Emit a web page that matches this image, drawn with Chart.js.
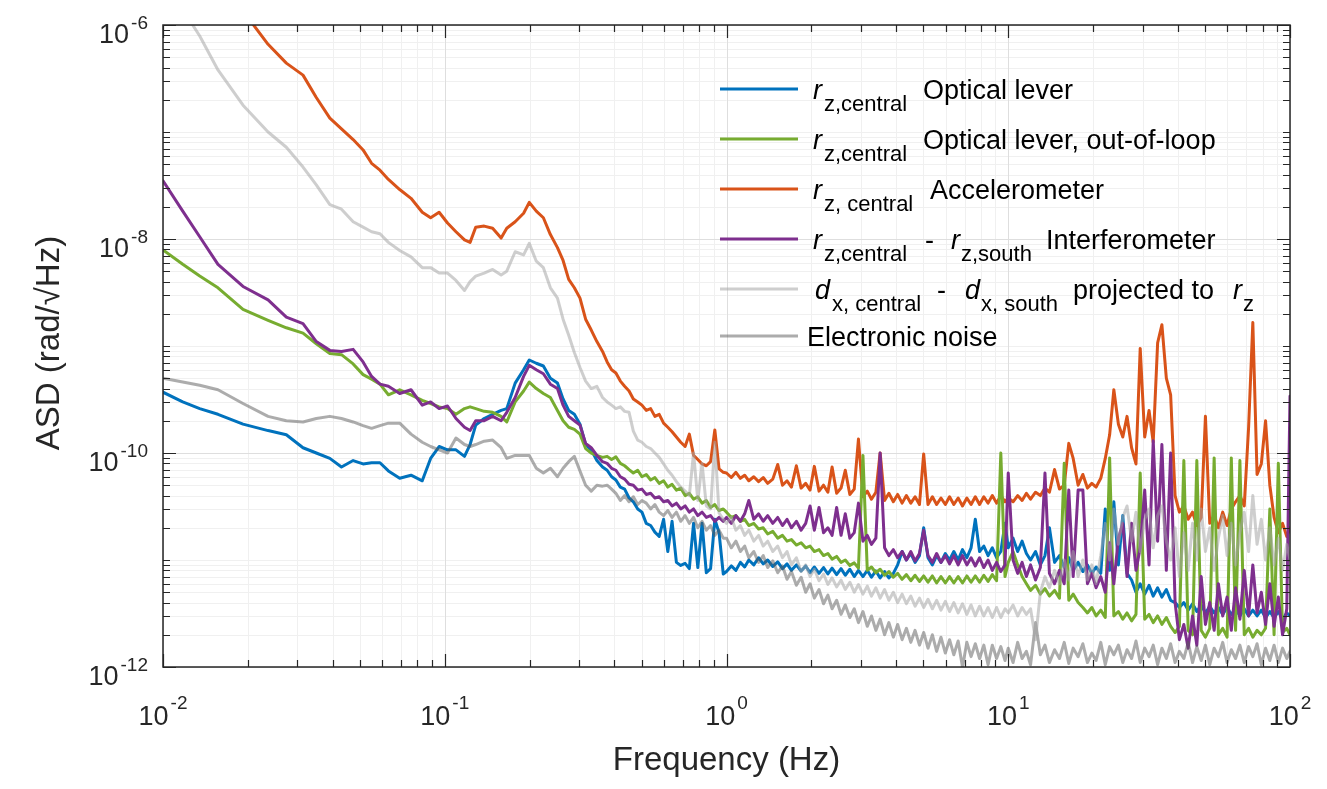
<!DOCTYPE html>
<html>
<head>
<meta charset="utf-8">
<script src="https://cdn.jsdelivr.net/npm/chart.js@4.4.0/dist/chart.umd.min.js"></script>
<style>
html,body{margin:0;padding:0;background:#ffffff;}
#wrap{width:1327px;height:789px;position:relative;overflow:hidden;}
canvas{display:block;}
</style>
</head>
<body>
<div id="wrap"><canvas id="c" width="1327" height="789"></canvas></div>
<script>
// ---------------- DATA ----------------
// Frequency grid (Hz)
const freq = [
0.0100,0.01175,0.0135,0.01567,0.01923,0.0236,0.0274,0.0314,0.0350,0.0391,
0.0430,0.0473,0.0513,0.0550,0.0589,0.0631,0.0692,0.0759,0.0832,0.0891,
0.0955,0.1023,0.1096,0.1175,0.1230,0.1288,0.1380,0.1479,0.1585,0.1660,
0.1778,0.1905,0.1995,0.2113,0.2239,0.2371,0.2512,0.2630,0.2754,0.2884,
0.3020,0.3162,0.3311,0.3467,0.3631,
0.377,0.391,0.405,0.420,0.435,0.451,0.467,0.484,0.501,0.519,
0.538,0.557,0.577,0.598,0.619,0.641,0.664,0.688,0.713,0.738,
0.764,0.791,0.819,0.848,0.878,0.909,0.941,0.974,
1.00,1.04,1.08,1.12,1.16,1.20,1.25,1.30,1.35,1.40,
1.46,1.52,1.58,1.64,1.70,1.77,1.84,1.91,1.98,2.05,
2.13,2.21,2.29,2.37,2.46,2.55,2.64,2.74,2.84,2.94,
3.05,3.16,3.27,3.39,3.51,3.64,3.77,3.91,4.05,4.20,
4.35,4.51,4.67,4.84,5.01,5.19,5.38,5.57,5.77,5.98,
6.19,6.41,6.64,6.88,7.13,7.38,7.64,7.91,8.19,8.48,
8.78,9.09,9.41,9.74,
10.0,10.4,10.8,11.2,11.6,12.0,12.5,13.0,13.5,14.0,
14.6,15.2,15.8,16.4,17.0,17.7,18.4,19.1,19.8,20.5,
21.3,22.1,22.9,23.7,24.6,25.5,26.4,27.4,28.4,29.4,
30.5,31.6,32.7,33.9,35.1,36.4,37.7,39.1,40.5,42.0,
43.5,45.1,46.7,48.4,50.1,51.9,53.8,55.7,57.7,59.8,
61.9,64.1,66.4,68.8,71.3,73.8,76.4,79.1,81.9,84.8,
87.8,90.9,94.1,97.4,
100
];

// r_z,central  Optical lever (blue)
const rzOpticalLever = [
3.7e-10,3.0e-10,2.6e-10,2.3e-10,1.86e-10,1.62e-10,1.48e-10,1.12e-10,1.0e-10,8.9e-11,
7.4e-11,8.5e-11,7.9e-11,8.1e-11,8.1e-11,6.8e-11,5.8e-11,6.2e-11,5.5e-11,8.9e-11,
1.15e-10,1.07e-10,1.07e-10,9.3e-11,1.2e-10,1.82e-10,2.1e-10,2.3e-10,2.5e-10,2.6e-10,
4.5e-10,6.0e-10,7.4e-10,6.9e-10,6.5e-10,5.0e-10,4.5e-10,3.2e-10,2.5e-10,2.3e-10,
1.86e-10,1.2e-10,1.07e-10,8.5e-11,7.4e-11,
6.9e-11,6.0e-11,5.6e-11,4.8e-11,4.6e-11,3.8e-11,3.5e-11,3.0e-11,2.8e-11,2.2e-11,
2.1e-11,1.82e-11,1.66e-11,2.4e-11,1.2e-11,2.3e-11,9.5e-12,8.9e-12,9.3e-12,8.3e-12,
2.2e-11,8.5e-12,2.2e-11,7.6e-12,8.3e-12,2.4e-11,1.8e-11,7.4e-12,
7.8e-12,8.8e-12,8.0e-12,9.5e-12,8.6e-12,1.0e-11,9.0e-12,1.05e-11,9.2e-12,1.0e-11,
8.7e-12,9.6e-12,8.3e-12,9.2e-12,8.0e-12,9.0e-12,7.9e-12,8.8e-12,7.6e-12,8.6e-12,
7.5e-12,8.5e-12,7.4e-12,8.4e-12,7.3e-12,8.3e-12,7.2e-12,8.2e-12,7.0e-12,8.0e-12,
7.0e-12,8.0e-12,6.9e-12,7.9e-12,6.8e-12,7.8e-12,6.8e-12,7.5e-12,9.0e-12,1.2e-11,
1.0e-11,1.15e-11,9.5e-12,1.1e-11,2.0e-11,1.05e-11,9.0e-12,1.1e-11,9.5e-12,1.15e-11,
1.0e-11,1.2e-11,1.0e-11,1.25e-11,1.05e-11,1.3e-11,2.4e-11,1.2e-11,1.35e-11,1.1e-11,
1.3e-11,1.05e-11,1.2e-11,2.2e-11,
1.3e-11,1.6e-11,1.2e-11,1.5e-11,1.15e-11,1.0e-11,1.2e-11,9.0e-12,1.1e-11,2.0e-11,
9.5e-12,1.1e-11,8.5e-12,1.05e-11,8.0e-12,9.5e-12,7.8e-12,9.0e-12,7.5e-12,8.6e-12,
7.5e-12,3.0e-11,8.0e-12,3.5e-11,9.0e-12,2.6e-11,7.5e-12,6.5e-12,5.0e-12,6.0e-12,
4.8e-12,5.8e-12,4.6e-12,5.5e-12,4.5e-12,5.3e-12,4.2e-12,4.0e-12,3.6e-12,4.0e-12,
3.4e-12,3.9e-12,3.3e-12,3.8e-12,3.2e-12,3.7e-12,3.2e-12,3.6e-12,3.1e-12,3.6e-12,
3.1e-12,3.5e-12,3.0e-12,3.5e-12,3.0e-12,3.4e-12,3.0e-12,3.4e-12,2.9e-12,3.3e-12,
2.9e-12,3.3e-12,2.8e-12,3.2e-12,
3.0e-12
];

// r_z,central  Optical lever, out-of-loop (green)
const rzOutOfLoop = [
7.9e-9,5.8e-9,4.5e-9,3.5e-9,2.2e-9,1.74e-9,1.48e-9,1.32e-9,1.05e-9,8.5e-10,
8.3e-10,6.8e-10,5.4e-10,4.9e-10,4.4e-10,3.5e-10,3.9e-10,3.5e-10,3.1e-10,2.9e-10,
2.7e-10,2.6e-10,2.3e-10,2.6e-10,2.7e-10,2.6e-10,2.45e-10,2.4e-10,2.2e-10,1.95e-10,
3.0e-10,3.8e-10,4.6e-10,4.0e-10,3.6e-10,3.3e-10,2.5e-10,2.0e-10,1.74e-10,1.66e-10,
1.5e-10,1.1e-10,1.0e-10,9.5e-11,9.1e-11,
9.3e-11,8.7e-11,9.2e-11,8.0e-11,7.6e-11,7.0e-11,6.5e-11,6.9e-11,6.0e-11,6.3e-11,
5.6e-11,5.9e-11,5.2e-11,5.5e-11,4.8e-11,5.1e-11,4.5e-11,4.7e-11,4.0e-11,4.2e-11,
3.7e-11,3.9e-11,3.4e-11,3.6e-11,3.1e-11,3.3e-11,2.9e-11,3.0e-11,
2.8e-11,2.5e-11,2.6e-11,2.3e-11,2.4e-11,2.1e-11,2.2e-11,1.95e-11,2.0e-11,1.75e-11,
1.85e-11,1.6e-11,1.7e-11,1.5e-11,1.55e-11,1.38e-11,1.45e-11,1.3e-11,1.35e-11,1.2e-11,
1.25e-11,1.1e-11,1.15e-11,1.02e-11,1.08e-11,9.5e-12,1.0e-11,8.9e-12,9.4e-12,8.4e-12,
9.5e-11,8.0e-12,8.6e-12,7.6e-12,8.2e-12,7.2e-12,7.8e-12,6.9e-12,7.5e-12,6.6e-12,
7.3e-12,6.4e-12,7.2e-12,6.3e-12,7.1e-12,6.2e-12,7.1e-12,6.1e-12,7.0e-12,6.1e-12,
7.0e-12,6.1e-12,7.0e-12,6.1e-12,7.1e-12,6.2e-12,7.1e-12,6.2e-12,7.2e-12,6.3e-12,
7.3e-12,6.4e-12,1.0e-10,7.0e-12,
9.5e-12,1.2e-11,9.0e-12,7.0e-12,6.0e-12,5.2e-12,5.8e-12,4.8e-12,5.4e-12,4.6e-12,
5.2e-12,4.4e-12,8.0e-11,4.2e-12,4.8e-12,4.0e-12,3.6e-12,3.2e-12,3.6e-12,3.0e-12,
3.4e-12,2.9e-12,9.0e-11,3.0e-12,3.3e-12,2.8e-12,3.2e-12,2.7e-12,3.1e-12,6.5e-11,
2.8e-12,3.1e-12,2.6e-12,3.0e-12,2.5e-12,2.9e-12,2.4e-12,2.1e-12,2.4e-12,8.5e-11,
2.2e-12,2.0e-12,8.5e-11,2.2e-12,1.9e-12,2.3e-12,9.0e-11,2.0e-12,2.3e-12,1.9e-12,
9.0e-11,2.2e-12,8.5e-11,2.0e-12,2.3e-12,1.9e-12,2.2e-12,2.0e-12,2.3e-12,3.0e-11,
2.0e-12,8.0e-11,2.1e-12,2.3e-12,
2.0e-12
];

// r_z,central  Accelerometer (orange)
const rzAccelerometer = [
9e-6,5.6e-6,4e-6,2.5e-6,1.35e-6,6.6e-7,4.4e-7,3.4e-7,2.1e-7,1.35e-7,
1.07e-7,8.5e-8,6.8e-8,5.1e-8,4.4e-8,3.6e-8,2.9e-8,2.4e-8,1.78e-8,1.58e-8,
1.78e-8,1.41e-8,1.17e-8,9.8e-9,9.3e-9,1.29e-8,1.32e-8,1.26e-8,1.02e-8,1.26e-8,
1.45e-8,1.74e-8,2.2e-8,1.82e-8,1.58e-8,1.1e-8,8.3e-9,6.3e-9,4.2e-9,3.5e-9,
2.8e-9,1.78e-9,1.41e-9,1.1e-9,8.9e-10,
7.1e-10,6.0e-10,5.6e-10,4.7e-10,4.2e-10,3.8e-10,3.2e-10,3.0e-10,2.8e-10,2.5e-10,
2.6e-10,2.2e-10,2.3e-10,1.9e-10,1.74e-10,1.58e-10,1.41e-10,1.26e-10,1.15e-10,1.5e-10,
9.5e-11,8.7e-11,7.9e-11,7.6e-11,8.3e-11,1.64e-10,7.1e-11,6.6e-11,
6.5e-11,5.9e-11,6.6e-11,5.8e-11,6.2e-11,5.5e-11,6.0e-11,5.4e-11,5.9e-11,5.2e-11,
5.7e-11,7.8e-11,5.0e-11,5.5e-11,4.8e-11,7.6e-11,4.7e-11,5.2e-11,4.5e-11,7.5e-11,
4.4e-11,5.0e-11,4.3e-11,7.4e-11,4.2e-11,4.7e-11,6.9e-11,4.1e-11,4.6e-11,1.35e-10,
3.9e-11,4.4e-11,3.7e-11,4.3e-11,1.0e-10,3.6e-11,4.2e-11,3.5e-11,4.1e-11,3.4e-11,
4.0e-11,3.4e-11,3.9e-11,3.3e-11,9.8e-11,3.3e-11,3.9e-11,3.3e-11,3.8e-11,3.3e-11,
3.9e-11,3.3e-11,3.8e-11,3.2e-11,3.8e-11,3.3e-11,3.9e-11,3.3e-11,3.9e-11,3.4e-11,
4.0e-11,3.4e-11,4.0e-11,3.5e-11,
3.8e-11,3.5e-11,4.0e-11,3.6e-11,4.2e-11,3.7e-11,4.3e-11,4.0e-11,4.7e-11,4.3e-11,
7.0e-11,4.6e-11,5.0e-11,1.23e-10,8.9e-11,5.0e-11,6.3e-11,4.7e-11,5.2e-11,4.8e-11,
5.8e-11,8.9e-11,1.48e-10,3.9e-10,1.86e-10,1.41e-10,2.2e-10,1.12e-10,7.9e-11,9.5e-10,
1.41e-10,2.5e-10,1.26e-10,1.07e-9,1.58e-9,5.0e-10,3.5e-10,4.0e-11,2.8e-11,3.2e-11,
2.4e-11,2.8e-11,2.1e-11,2.5e-11,2.2e-10,2.2e-11,2.6e-11,2.0e-11,2.8e-11,2.1e-11,
3.0e-11,3.5e-11,4.0e-11,3.2e-11,1.74e-10,1.66e-9,6.3e-11,7.9e-11,2.0e-10,5.0e-11,
2.5e-11,1.8e-11,2.2e-11,1.66e-11,
2.0e-11
];

// r_z,central - r_z,south  Interferometer (purple)
const rzInterferometer = [
3.5e-8,1.82e-8,1.05e-8,5.8e-9,3.6e-9,2.7e-9,1.86e-9,1.62e-9,1.1e-9,9.1e-10,
8.9e-10,9.3e-10,7.1e-10,5.2e-10,4.4e-10,4.2e-10,3.6e-10,3.9e-10,2.8e-10,3.0e-10,
2.6e-10,2.75e-10,2.1e-10,1.74e-10,1.62e-10,2.0e-10,2.0e-10,2.2e-10,2.0e-10,2.4e-10,
3.3e-10,5.2e-10,6.6e-10,6.0e-10,5.5e-10,4.4e-10,4.0e-10,2.8e-10,2.2e-10,2.0e-10,
1.82e-10,1.23e-10,1.12e-10,9.5e-11,8.3e-11,
8.0e-11,7.2e-11,6.9e-11,6.0e-11,5.7e-11,5.1e-11,5.0e-11,4.5e-11,4.6e-11,4.1e-11,
4.2e-11,3.8e-11,3.9e-11,3.5e-11,3.6e-11,3.2e-11,3.4e-11,3.0e-11,3.2e-11,2.8e-11,
3.0e-11,2.6e-11,2.8e-11,2.5e-11,2.6e-11,2.3e-11,2.5e-11,2.3e-11,
2.5e-11,2.2e-11,2.6e-11,2.3e-11,2.7e-11,3.6e-11,2.4e-11,2.7e-11,2.3e-11,2.6e-11,
2.2e-11,2.5e-11,2.1e-11,2.4e-11,2.0e-11,2.3e-11,1.9e-11,2.2e-11,3.2e-11,1.9e-11,
3.1e-11,1.8e-11,2.0e-11,1.7e-11,3.1e-11,1.7e-11,2.7e-11,1.6e-11,1.8e-11,3.4e-11,
1.5e-11,1.7e-11,1.4e-11,1.6e-11,1.0e-10,1.3e-11,1.1e-11,1.25e-11,1.05e-11,1.2e-11,
1.0e-11,1.2e-11,9.8e-12,1.15e-11,1.9e-11,1.1e-11,9.5e-12,1.15e-11,9.5e-12,1.1e-11,
9.2e-12,1.1e-11,9.0e-12,1.1e-11,9.0e-12,1.05e-11,8.8e-12,1.05e-11,8.5e-12,1.0e-11,
8.0e-12,9.5e-12,7.8e-12,9.0e-12,
6.5e-11,1.0e-11,7.5e-12,9.5e-12,7.0e-12,9.0e-12,6.5e-12,8.5e-12,6.5e-11,7.5e-12,
6.0e-12,8.0e-12,6.0e-12,4.5e-11,7.0e-12,4.5e-11,4.5e-11,6.0e-12,7.5e-12,5.5e-12,
7.0e-12,5.0e-12,1.45e-11,6.0e-12,1.6e-11,2.2e-11,7.0e-12,2.2e-11,8.0e-12,1.3e-11,
4.5e-11,9.0e-12,1.3e-10,1.5e-11,1.2e-10,8.0e-12,1.0e-10,4.0e-12,1.8e-12,2.5e-12,
1.5e-12,3.0e-12,1.6e-12,7.0e-12,2.5e-12,4.0e-12,2.2e-12,6.0e-12,3.0e-12,4.5e-12,
2.2e-12,5.5e-12,2.8e-12,8.0e-12,3.0e-12,9.0e-12,3.2e-12,5.0e-12,2.5e-12,6.0e-12,
2.4e-12,4.5e-12,2.0e-12,3.5e-12,
3.4e-10
];

// d_x,central - d_x,south projected to r_z (light grey)
const dxProjected = [
2.8e-6,1.4e-6,7.9e-7,3.8e-7,1.78e-7,1.0e-7,7.2e-8,4.7e-8,3.2e-8,2.1e-8,
1.9e-8,1.45e-8,1.29e-8,1.17e-8,1.12e-8,9.3e-9,7.8e-9,6.8e-9,5.4e-9,5.4e-9,
4.8e-9,4.8e-9,4.1e-9,3.3e-9,4.0e-9,4.5e-9,4.8e-9,5.2e-9,4.6e-9,5.0e-9,
7.6e-9,7.1e-9,9.1e-9,6.2e-9,5.4e-9,3.5e-9,2.8e-9,1.78e-9,1.26e-9,8.7e-10,
6.3e-10,4.7e-10,4.0e-10,4.2e-10,3.3e-10,
3.0e-10,2.8e-10,2.6e-10,2.7e-10,2.45e-10,2.4e-10,1.6e-10,1.32e-10,1.26e-10,1.15e-10,
1.1e-10,1.0e-10,9.1e-11,7.9e-11,6.9e-11,6.2e-11,5.4e-11,4.8e-11,4.4e-11,4.0e-11,
1.0e-10,3.6e-11,8.0e-11,3.2e-11,3.0e-11,1.26e-10,2.75e-11,2.4e-11,
2.2e-11,2.5e-11,1.9e-11,2.1e-11,1.7e-11,1.9e-11,1.5e-11,1.7e-11,1.35e-11,1.5e-11,
1.2e-11,1.35e-11,1.05e-11,1.2e-11,9.0e-12,1.05e-11,7.8e-12,9.0e-12,7.0e-12,8.2e-12,
6.4e-12,7.4e-12,5.9e-12,6.8e-12,5.6e-12,6.5e-12,5.3e-12,6.2e-12,5.0e-12,5.9e-12,
4.8e-12,5.7e-12,4.6e-12,5.5e-12,4.4e-12,5.3e-12,4.2e-12,5.0e-12,4.0e-12,4.8e-12,
3.9e-12,4.6e-12,3.7e-12,4.4e-12,3.6e-12,4.3e-12,3.5e-12,4.2e-12,3.4e-12,4.1e-12,
3.3e-12,4.0e-12,3.2e-12,3.9e-12,3.1e-12,3.8e-12,3.0e-12,3.7e-12,3.0e-12,3.6e-12,
2.9e-12,3.6e-12,2.9e-12,3.5e-12,
3.2e-12,3.8e-12,3.0e-12,3.6e-12,3.1e-12,3.5e-12,1.8e-12,5.0e-12,7.0e-12,5.5e-12,
8.0e-12,6.0e-12,1.0e-11,6.5e-12,1.2e-11,7.0e-12,1.0e-11,6.5e-12,9.0e-12,6.0e-12,
1.1e-11,2.2e-11,1.0e-11,3.0e-11,1.4e-11,2.5e-11,3.2e-11,1.5e-11,2.8e-11,1.2e-11,
2.4e-11,3.0e-11,1.3e-11,2.6e-11,3.2e-11,1.5e-11,1.0e-11,2.0e-11,7.0e-12,1.8e-11,
8.0e-12,2.2e-11,1.0e-11,3.0e-11,1.2e-11,2.0e-11,8.0e-12,1.6e-11,2.6e-11,1.1e-11,
2.2e-11,9.0e-12,1.8e-11,2.8e-11,1.2e-11,4.0e-11,1.4e-11,2.4e-11,1.0e-11,2.0e-11,
9.0e-12,1.6e-11,8.0e-12,1.4e-11,
1.0e-11
];

// Electronic noise (grey)
const electronicNoise = [
5.0e-10,4.6e-10,4.3e-10,3.9e-10,2.9e-10,2.2e-10,2.0e-10,1.95e-10,2.1e-10,2.2e-10,
2.1e-10,1.95e-10,1.8e-10,1.7e-10,1.8e-10,1.9e-10,1.9e-10,1.5e-10,1.26e-10,1.15e-10,
1.07e-10,1.0e-10,1.38e-10,1.2e-10,1.15e-10,1.2e-10,1.29e-10,1.32e-10,1.12e-10,8.9e-11,
9.5e-11,9.5e-11,9.5e-11,7.2e-11,6.5e-11,7.2e-11,6.0e-11,7.2e-11,8.3e-11,9.3e-11,
6.8e-11,5.0e-11,4.4e-11,5.0e-11,4.9e-11,
5.0e-11,4.6e-11,4.2e-11,3.6e-11,4.0e-11,3.5e-11,3.9e-11,3.3e-11,3.6e-11,3.4e-11,
3.0e-11,3.3e-11,2.8e-11,2.6e-11,2.9e-11,2.5e-11,2.8e-11,2.3e-11,2.6e-11,2.2e-11,
2.5e-11,2.0e-11,2.3e-11,1.9e-11,2.1e-11,1.7e-11,1.9e-11,1.6e-11,
1.6e-11,1.3e-11,1.5e-11,1.2e-11,1.35e-11,1.05e-11,1.2e-11,9.5e-12,1.1e-11,8.5e-12,
9.8e-12,7.6e-12,8.8e-12,6.6e-12,7.8e-12,5.8e-12,6.9e-12,5.0e-12,6.0e-12,4.4e-12,
5.3e-12,3.9e-12,4.7e-12,3.5e-12,4.2e-12,3.1e-12,3.8e-12,2.9e-12,3.5e-12,2.6e-12,
3.3e-12,2.4e-12,3.0e-12,2.2e-12,2.8e-12,2.0e-12,2.6e-12,1.9e-12,2.5e-12,1.8e-12,
2.3e-12,1.7e-12,2.2e-12,1.6e-12,2.1e-12,1.5e-12,2.0e-12,1.4e-12,1.9e-12,1.35e-12,
1.8e-12,1.3e-12,1.75e-12,1.0e-12,1.7e-12,1.25e-12,1.65e-12,1.2e-12,1.6e-12,1.05e-12,
1.6e-12,1.2e-12,1.55e-12,1.15e-12,
1.5e-12,1.1e-12,1.7e-12,1.2e-12,1.4e-12,1.05e-12,2.6e-12,1.3e-12,1.6e-12,1.1e-12,
1.45e-12,1.2e-12,1.7e-12,1.08e-12,1.5e-12,1.25e-12,1.65e-12,1.1e-12,1.35e-12,1.15e-12,
1.7e-12,1.05e-12,1.55e-12,1.3e-12,1.6e-12,1.1e-12,1.45e-12,1.2e-12,1.75e-12,1.1e-12,
1.5e-12,1.25e-12,1.6e-12,1.05e-12,1.5e-12,1.2e-12,1.65e-12,1.1e-12,1.4e-12,1.2e-12,
1.7e-12,1.1e-12,1.55e-12,1.15e-12,1.6e-12,1.05e-12,1.5e-12,1.25e-12,1.7e-12,1.1e-12,
1.45e-12,1.2e-12,1.6e-12,1.1e-12,1.55e-12,1.25e-12,1.65e-12,1.05e-12,1.5e-12,1.15e-12,
1.6e-12,1.1e-12,1.5e-12,1.2e-12,
1.4e-12
];

// Axis tick decades and labels
const xDecades = [0.01, 0.1, 1, 10, 100];
const xLabelExp = ['-2', '-1', '0', '1', '2'];
const yDecades = [1e-12, 1e-11, 1e-10, 1e-9, 1e-8, 1e-7, 1e-6];
const yLabelDecades = [1e-12, 1e-10, 1e-8, 1e-6];
const yLabelExp = ['-12', '-10', '-8', '-6'];
const minorMultipliers = [2, 3, 4, 5, 6, 7, 8, 9];

// ---------------- STYLE ----------------
const COLORS = {
  blue: '#0072BD', green: '#77AC30', orange: '#D95319', purple: '#7E2F8E',
  dx: 'rgba(165,165,165,0.55)', el: 'rgba(90,90,90,0.5)'
};
const FONT = '"Liberation Sans", Arial, Helvetica, sans-serif';
const TXT = '#262626';

const legendRows = [
  {y: 89, color: COLORS.blue, segs: [['i','r',813],['s','z,central',824],['n','Optical lever',923]]},
  {y: 139, color: COLORS.green, segs: [['i','r',813],['s','z,central',824],['n','Optical lever, out-of-loop',923]]},
  {y: 189, color: COLORS.orange, segs: [['i','r',813],['s','z, central',824],['n','Accelerometer',930]]},
  {y: 239, color: COLORS.purple, segs: [['i','r',813],['s','z,central',824],['n','-',925],['i','r',951],['s','z,south',961],['n','Interferometer',1046]]},
  {y: 289, color: COLORS.dx, segs: [['i','d',815],['s','x, central',832],['n','-',937],['i','d',965],['s','x, south',981],['n','projected to',1073],['i','r',1233],['s','z',1243]]},
  {y: 336, color: COLORS.el, segs: [['n','Electronic noise',807]]}
];

function pts(vals) {
  const n = Math.min(freq.length, vals.length);
  const out = [];
  for (let i = 0; i < n; i++) out.push({x: freq[i], y: vals[i]});
  return out;
}
function minorVals(decades) {
  const out = [];
  for (let i = 0; i < decades.length - 1; i++) for (const m of minorMultipliers) out.push(decades[i] * m);
  return out;
}

const matlabAxes = {
  id: 'matlabAxes',
  beforeDatasetsDraw(chart) {
    const {ctx, chartArea: a, scales: {x, y}} = chart;
    ctx.save();
    ctx.lineWidth = 1;
    ctx.strokeStyle = '#f0f0f0';
    ctx.beginPath();
    for (const v of minorVals(xDecades)) {
      const p = Math.round(x.getPixelForValue(v)) + 0.5;
      ctx.moveTo(p, a.top); ctx.lineTo(p, a.bottom);
    }
    const yMinor = minorVals(yDecades).concat(yDecades.filter(d => !yLabelDecades.includes(d)));
    for (const v of yMinor) {
      const p = Math.round(y.getPixelForValue(v)) + 0.5;
      ctx.moveTo(a.left, p); ctx.lineTo(a.right, p);
    }
    ctx.stroke();
    ctx.strokeStyle = '#dedede';
    ctx.beginPath();
    for (const v of xDecades) {
      const p = Math.round(x.getPixelForValue(v)) + 0.5;
      ctx.moveTo(p, a.top); ctx.lineTo(p, a.bottom);
    }
    for (const v of yLabelDecades) {
      const p = Math.round(y.getPixelForValue(v)) + 0.5;
      ctx.moveTo(a.left, p); ctx.lineTo(a.right, p);
    }
    ctx.stroke();
    ctx.restore();
  },
  afterDatasetsDraw(chart) {
    const {ctx, chartArea: a, scales: {x, y}} = chart;
    ctx.save();
    ctx.strokeStyle = TXT;
    ctx.lineWidth = 1.2;
    ctx.beginPath();
    const xt = xDecades.map(v => [v, 13]).concat(minorVals(xDecades).map(v => [v, 7]));
    for (const [v, len] of xt) {
      const p = Math.round(x.getPixelForValue(v)) + 0.5;
      ctx.moveTo(p, a.bottom); ctx.lineTo(p, a.bottom - len);
      ctx.moveTo(p, a.top); ctx.lineTo(p, a.top + len);
    }
    const yt = yDecades.map(v => [v, yLabelDecades.includes(v) ? 13 : 7]).concat(minorVals(yDecades).map(v => [v, 7]));
    for (const [v, len] of yt) {
      const p = Math.round(y.getPixelForValue(v)) + 0.5;
      ctx.moveTo(a.left, p); ctx.lineTo(a.left + len, p);
      ctx.moveTo(a.right, p); ctx.lineTo(a.right - len, p);
    }
    ctx.stroke();
    ctx.lineWidth = 1.5;
    ctx.strokeRect(a.left, a.top, a.right - a.left, a.bottom - a.top);

    const baseF = '27px ' + FONT, supF = '19px ' + FONT;
    ctx.fillStyle = TXT;
    ctx.textBaseline = 'alphabetic';
    ctx.textAlign = 'left';
    xDecades.forEach((v, i) => {
      const p = x.getPixelForValue(v);
      ctx.font = baseF; const w1 = ctx.measureText('10').width;
      ctx.font = supF; const w2 = ctx.measureText(xLabelExp[i]).width;
      const start = p - (w1 + 2 + w2) / 2;
      ctx.font = baseF; ctx.fillText('10', start, a.bottom + 58);
      ctx.font = supF; ctx.fillText(xLabelExp[i], start + w1 + 2, a.bottom + 42);
    });
    yLabelDecades.forEach((v, i) => {
      const p = y.getPixelForValue(v);
      ctx.font = baseF; const w1 = ctx.measureText('10').width;
      ctx.font = supF; const w2 = ctx.measureText(yLabelExp[i]).width;
      const start = a.left - 15 - (w1 + 2 + w2);
      ctx.font = baseF; ctx.fillText('10', start, p + 18);
      ctx.font = supF; ctx.fillText(yLabelExp[i], start + w1 + 2, p + 4);
    });

    ctx.font = '33px ' + FONT;
    ctx.textAlign = 'center';
    ctx.fillText('Frequency (Hz)', (a.left + a.right) / 2, 770);
    ctx.save();
    ctx.translate(59, (a.top + a.bottom) / 2 - 3);
    ctx.rotate(-Math.PI / 2);
    ctx.fillText('ASD (rad/\u221AHz)', 0, 0);
    ctx.restore();

    ctx.textAlign = 'left';
    for (const row of legendRows) {
      ctx.strokeStyle = row.color;
      ctx.lineWidth = 3;
      ctx.beginPath(); ctx.moveTo(720, row.y); ctx.lineTo(798, row.y); ctx.stroke();
      ctx.fillStyle = '#000';
      for (const [st, t, px] of row.segs) {
        if (st === 's') { ctx.font = '22px ' + FONT; ctx.fillText(t, px, row.y + 22); }
        else if (st === 'i') { ctx.font = 'italic 27px ' + FONT; ctx.fillText(t, px, row.y + 10); }
        else { ctx.font = '27px ' + FONT; ctx.fillText(t, px, row.y + 10); }
      }
    }
    ctx.restore();
  }
};

const ds = (label, vals, color) => ({label, data: pts(vals), borderColor: color, backgroundColor: color});

new Chart(document.getElementById('c'), {
  type: 'line',
  data: {
    datasets: [
      ds('d_x,central - d_x,south projected to r_z', dxProjected, COLORS.dx),
      ds('Electronic noise', electronicNoise, COLORS.el),
      ds('r_z,central - r_z,south Interferometer', rzInterferometer, COLORS.purple),
      ds('r_z,central Optical lever, out-of-loop', rzOutOfLoop, COLORS.green),
      ds('r_z,central Optical lever', rzOpticalLever, COLORS.blue),
      ds('r_z,central Accelerometer', rzAccelerometer, COLORS.orange)
    ]
  },
  options: {
    responsive: false,
    animation: false,
    devicePixelRatio: 1,
    elements: {
      point: {radius: 0, hoverRadius: 0},
      line: {borderWidth: 3, tension: 0, fill: false, borderJoinStyle: 'round', borderCapStyle: 'round'}
    },
    plugins: {legend: {display: false}, tooltip: {enabled: false}},
    events: [],
    layout: {padding: {top: 25, right: 37, left: 0, bottom: 0}},
    scales: {
      x: {
        type: 'logarithmic', min: 0.01, max: 100,
        ticks: {display: false}, grid: {display: false}, border: {display: false},
        afterFit(s) { s.height = 122; }
      },
      y: {
        type: 'logarithmic', min: 1e-12, max: 1e-6,
        ticks: {display: false}, grid: {display: false}, border: {display: false},
        afterFit(s) { s.width = 163; }
      }
    }
  },
  plugins: [matlabAxes]
});
</script>
</body>
</html>
